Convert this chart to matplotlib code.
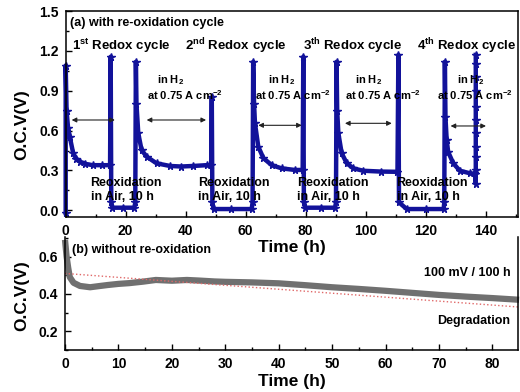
import matplotlib
matplotlib.use('Agg')
import matplotlib.pyplot as plt
from matplotlib.ticker import MultipleLocator

plt.rcParams['font.family'] = ['Liberation Sans', 'DejaVu Sans']
plt.rcParams['font.weight'] = 'bold'
plt.rcParams['mathtext.fontset'] = 'custom'
plt.rcParams['mathtext.bf'] = 'Liberation Sans:bold'
plt.rcParams['mathtext.rm'] = 'Liberation Sans:bold'
plt.rcParams['mathtext.default'] = 'bf'

# (a) OCV during redox cycling: H2 operation / reoxidation in air
t_redox = [0, 0, 0.3, 0.8, 1.4, 2.5, 3.5, 4.8, 6.5, 9, 12, 14.8, 15.0,          # cycle 1, H2
           15.2, 15.6, 19, 22.9, 23.2,                                           # air
           23.4, 23.6, 24.2, 25.3, 27, 30.3, 34.8, 38.5, 42.4, 47, 48.5, 48.7,   # cycle 2, H2
           48.9, 49.3, 55, 62.0, 62.3,                                           # air
           62.5, 62.8, 63.1, 64.2, 65.9, 68.7, 72, 76.4, 79.0, 79.2,             # cycle 3, H2
           79.4, 79.8, 85, 89.8, 90.1,                                           # air
           90.3, 90.5, 90.9, 92, 93.7, 95.9, 99.2, 105, 110.6, 110.9,            # cycle 4, H2
           111.1, 113.7, 120, 126.0, 126.2,                                      # air
           126.4, 126.6, 127, 127.5, 129.2, 131.4, 134.8, 136.6,                 # cycle 5, H2
           136.7, 136.7, 136.7, 136.7, 136.7, 136.7, 136.7, 136.7, 136.7, 136.7, 136.7]
v_redox = [-0.02, 1.09, 0.75, 0.62, 0.55, 0.43, 0.39, 0.366, 0.35, 0.34, 0.34, 0.34, 1.156,
           0.06, 0.02, 0.02, 0.02, 0.06,
           1.118, 0.8, 0.58, 0.454, 0.404, 0.354, 0.334, 0.33, 0.334, 0.34, 0.34, 0.85,
           0.06, 0.01, 0.01, 0.01, 0.06,
           1.118, 0.8, 0.655, 0.48, 0.393, 0.34, 0.316, 0.304, 0.304, 1.156,
           0.06, 0.02, 0.02, 0.02, 0.06,
           1.118, 0.75, 0.58, 0.43, 0.354, 0.316, 0.298, 0.292, 0.29, 1.17,
           0.06, 0.01, 0.01, 0.01, 0.06,
           1.118, 0.7, 0.53, 0.44, 0.354, 0.298, 0.279, 0.274,
           0.2, 0.3, 0.4, 0.48, 0.58, 0.68, 0.78, 0.9, 1.0, 1.1, 1.17]

# double arrows marking the H2 periods
arrow_start = [2, 27, 64.2, 93.1, 128.3]
arrow_end = [16.4, 46.8, 78.7, 108.7, 140.1]
arrow_v = [0.68, 0.68, 0.64, 0.655, 0.635]

cycle_labels = ['1$^{st}$ Redox cycle', '2$^{nd}$ Redox cycle',
                '3$^{th}$ Redox cycle', '4$^{th}$ Redox cycle']
cycle_label_t = [2.1, 39.8, 79, 117]
h2_label_t = [30.4, 67.4, 96.4, 130.4]
current_label_t = [27.1, 63.1, 93.1, 123.8]
reox_label_t = [8.3, 44.1, 77, 110.3]

# (b) OCV without reoxidation
t_const = [0, 0.1, 0.3, 0.6, 0.9, 1.6, 2.8, 4.7, 6.6, 8, 10, 12, 14.6, 17, 20, 22.8,
           25, 28, 30, 35, 40, 45, 50, 55, 60, 65, 70, 75, 80, 85]
v_const = [0.69, 0.66, 0.6, 0.54, 0.49, 0.46, 0.443, 0.436, 0.443, 0.448, 0.454, 0.458,
           0.466, 0.475, 0.471, 0.475, 0.472, 0.467, 0.465, 0.462, 0.457, 0.447, 0.436,
           0.427, 0.417, 0.406, 0.395, 0.386, 0.378, 0.369]
trend_t = [0, 85]
trend_v = [0.51, 0.33]

blue = '#12129a'

fig = plt.figure(figsize=(5.2, 3.92), dpi=100)
ax1 = fig.add_axes([0.1263, 0.4464, 0.8700, 0.5255])
ax2 = fig.add_axes([0.1250, 0.1071, 0.8712, 0.2883])
ax2.set_facecolor('none')

ax1.plot(t_redox, v_redox, color=blue, lw=3.2, marker='*', ms=5.5, clip_on=False)
for t0, t1, v in zip(arrow_start, arrow_end, arrow_v):
    ax1.annotate('', xy=(t1, v), xytext=(t0, v),
                 arrowprops=dict(arrowstyle='<|-|>', color='#222222', lw=0.8,
                                 mutation_scale=7, shrinkA=0, shrinkB=0))

ax1.text(1.4, 1.387, '(a) with re-oxidation cycle', fontsize=9)
for lab, t in zip(cycle_labels, cycle_label_t):
    ax1.text(t, 1.207, lab, fontsize=9.5)
for t in h2_label_t:
    ax1.text(t, 0.958, 'in H$_2$', fontsize=8)
for t in current_label_t:
    ax1.text(t, 0.83, 'at 0.75 A cm$^{-2}$', fontsize=8, clip_on=False)
for t in reox_label_t:
    ax1.text(t, 0.25, 'Reoxidation\nin Air, 10 h', fontsize=9, va='top',
             linespacing=1.25)

ax1.set_xlim(0, 150.8)
ax1.set_ylim(-0.05, 1.5)
ax1.xaxis.set_major_locator(MultipleLocator(20))
ax1.xaxis.set_minor_locator(MultipleLocator(10))
ax1.yaxis.set_major_locator(MultipleLocator(0.3))
ax1.yaxis.set_minor_locator(MultipleLocator(0.15))
ax1.yaxis.set_major_formatter(plt.FormatStrFormatter('%.1f'))

ax2.plot(t_const, v_const, color='#707070', lw=4.5, solid_capstyle='butt', clip_on=False)
ax2.plot(trend_t, trend_v, color='#e06868', lw=1.0, ls=':')
ax2.text(1.3, 0.62, '(b) without re-oxidation', fontsize=9)
ax2.text(83.4, 0.498, '100 mV / 100 h', fontsize=9, ha='right')
ax2.text(83.4, 0.241, 'Degradation', fontsize=9, ha='right')

ax2.set_xlim(0, 84.8)
ax2.set_ylim(0.1, 0.705)
ax2.xaxis.set_major_locator(MultipleLocator(10))
ax2.xaxis.set_minor_locator(MultipleLocator(5))
ax2.yaxis.set_major_locator(MultipleLocator(0.2))
ax2.yaxis.set_minor_locator(MultipleLocator(0.1))
ax2.yaxis.set_major_formatter(plt.FormatStrFormatter('%.1f'))
ax2.spines['top'].set_visible(False)

for ax in (ax1, ax2):
    ax.tick_params(which='both', direction='in', top=False, right=False,
                   labelsize=10, pad=5)
    ax.tick_params(which='major', length=4, width=1)
    ax.tick_params(which='minor', length=2.5, width=1)
    for s in ax.spines.values():
        s.set_linewidth(1.1)
    ax.set_xlabel('Time (h)', fontsize=12.5, fontweight='bold')
    ax.set_ylabel('O.C.V(V)', fontsize=12.5, fontweight='bold')
    ax.yaxis.label.set_va('center')
    ax.xaxis.label.set_va('center')

ax1.yaxis.set_label_coords(-0.096, 0.45)
ax1.xaxis.set_label_coords(0.5, -0.15)
ax2.yaxis.set_label_coords(-0.095, 0.48)
ax2.xaxis.set_label_coords(0.5, -0.275)

fig.savefig('out.png', dpi=100)
